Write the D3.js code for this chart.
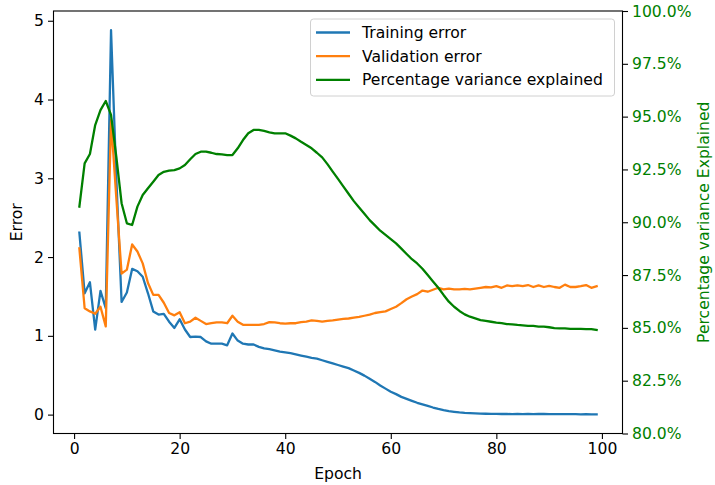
<!DOCTYPE html>
<html>
<head>
<meta charset="utf-8">
<script src="https://cdn.jsdelivr.net/npm/d3@7"></script>
<style>
  body { margin: 0; background: #fff; }
  svg text { font-family: "DejaVu Sans", sans-serif; }
</style>
</head>
<body>
<div id="chart"></div>
<script>
// data
const epochs = d3.range(1, 100);

const trainingError = [
  2.31, 1.54, 1.68, 1.08, 1.57, 1.35, 4.88, 3.0, 1.43, 1.55,
  1.85, 1.82, 1.75, 1.54, 1.31, 1.27, 1.28, 1.18, 1.10, 1.21,
  1.08, 0.985, 0.99, 0.985, 0.93, 0.90, 0.90, 0.90, 0.88, 1.03,
  0.94, 0.90, 0.89, 0.89, 0.86, 0.84, 0.83, 0.815, 0.80, 0.79,
  0.78, 0.765, 0.75, 0.735, 0.72, 0.71, 0.69, 0.67, 0.65, 0.63,
  0.61, 0.59, 0.56, 0.53, 0.495, 0.455, 0.415, 0.37, 0.33, 0.29,
  0.26, 0.225, 0.20, 0.175, 0.15, 0.13, 0.11, 0.09, 0.072, 0.057,
  0.045, 0.036, 0.028, 0.022, 0.018, 0.015, 0.013, 0.011, 0.010, 0.009,
  0.008, 0.008, 0.006, 0.009, 0.007, 0.010, 0.006, 0.009, 0.008, 0.006,
  0.007, 0.005, 0.006, 0.005, 0.005, 0.004, 0.005, 0.004, 0.004
];

const validationError = [
  2.11, 1.35, 1.31, 1.28, 1.37, 1.12, 3.74, 2.75, 1.79, 1.84,
  2.16, 2.07, 1.92, 1.67, 1.52, 1.52, 1.42, 1.29, 1.26, 1.30,
  1.16, 1.18, 1.23, 1.19, 1.15, 1.16, 1.17, 1.17, 1.16, 1.255,
  1.18, 1.14, 1.14, 1.14, 1.14, 1.15, 1.175, 1.17, 1.16, 1.155,
  1.16, 1.16, 1.175, 1.18, 1.195, 1.19, 1.18, 1.19, 1.195, 1.205,
  1.215, 1.22, 1.23, 1.24, 1.255, 1.27, 1.29, 1.30, 1.31, 1.34,
  1.37, 1.415, 1.465, 1.50, 1.53, 1.575, 1.56, 1.585, 1.61, 1.59,
  1.60, 1.59, 1.59, 1.595, 1.59, 1.60, 1.61, 1.62, 1.615, 1.63,
  1.61, 1.64, 1.63, 1.64, 1.63, 1.645, 1.62, 1.64, 1.62, 1.635,
  1.62, 1.61, 1.65, 1.62, 1.62, 1.63, 1.645, 1.61, 1.63
];

const varianceExplained = [
  90.74, 92.79, 93.23, 94.60, 95.31, 95.74, 95.08, 93.10, 90.90, 89.95,
  89.87, 90.74, 91.29, 91.61, 91.92, 92.24, 92.39, 92.44, 92.47, 92.55,
  92.71, 92.98, 93.23, 93.34, 93.34, 93.29, 93.23, 93.21, 93.18, 93.18,
  93.50, 93.89, 94.21, 94.37, 94.37, 94.32, 94.26, 94.21, 94.21, 94.21,
  94.10, 93.97, 93.81, 93.66, 93.50, 93.29, 93.07, 92.75, 92.4, 92.05,
  91.7, 91.35, 91.0, 90.7, 90.4, 90.1, 89.85, 89.6, 89.4, 89.2,
  89.0, 88.75, 88.5, 88.25, 88.05, 87.8, 87.5, 87.2, 86.9, 86.56,
  86.24, 86.0, 85.80, 85.64, 85.53, 85.45, 85.37, 85.33, 85.29, 85.25,
  85.22, 85.18, 85.17, 85.14, 85.12, 85.09, 85.09, 85.06, 85.06, 85.03,
  84.99, 84.98, 84.98, 84.95, 84.95, 84.95, 84.94, 84.94, 84.90
];

const xTicks = [0, 20, 40, 60, 80, 100];
const errorTicks = [0, 1, 2, 3, 4, 5];
const pctTicks = [80, 82.5, 85, 87.5, 90, 92.5, 95, 97.5, 100];
const seriesNames = ["Training error", "Validation error", "Percentage variance explained"];

// set up
const W = 715, H = 485;
const mLeft = 53.5, mRight = 622.5, mTop = 11, mBottom = 433.5;
const fs = 15.6;
const tickLen = 5.5;

const svg = d3.select("#chart").append("svg")
  .attr("width", W)
  .attr("height", H);

// matplotlib style 5% margins
const pad = (lo, hi) => [lo - (hi - lo) * 0.05, hi + (hi - lo) * 0.05];
const allErr = trainingError.concat(validationError);

const x = d3.scaleLinear()
  .domain(pad(d3.min(epochs), d3.max(epochs)))
  .range([mLeft, mRight]);
const yErr = d3.scaleLinear()
  .domain(pad(d3.min(allErr), d3.max(allErr)))
  .range([mBottom, mTop]);
const yPct = d3.scaleLinear()
  .domain([80, 100])
  .range([mBottom, mTop]);

svg.append("clipPath").attr("id", "plotclip")
  .append("rect")
  .attr("x", mLeft).attr("y", mTop)
  .attr("width", mRight - mLeft).attr("height", mBottom - mTop);

const plot = svg.append("g").attr("clip-path", "url(#plotclip)");

const lineErr = d3.line().x((d, i) => x(epochs[i])).y(d => yErr(d));
const linePct = d3.line().x((d, i) => x(epochs[i])).y(d => yPct(d));

const lines = [
  {data: trainingError, gen: lineErr, color: "#1f77b4"},
  {data: validationError, gen: lineErr, color: "#ff7f0e"},
  {data: varianceExplained, gen: linePct, color: "green"}
];
lines.forEach(l => {
  plot.append("path").datum(l.data)
    .attr("d", l.gen)
    .attr("fill", "none").attr("stroke", l.color)
    .attr("stroke-width", 2.3)
    .attr("stroke-linejoin", "round").attr("stroke-linecap", "square");
});

// axes
const xAxis = svg.append("g")
  .attr("transform", `translate(0,${mBottom})`)
  .call(d3.axisBottom(x).tickValues(xTicks).tickSize(tickLen).tickPadding(4).tickFormat(d3.format("d")));
const yAxisL = svg.append("g")
  .attr("transform", `translate(${mLeft},0)`)
  .call(d3.axisLeft(yErr).tickValues(errorTicks).tickSize(tickLen).tickPadding(4).tickFormat(d3.format("d")));
const yAxisR = svg.append("g")
  .attr("transform", `translate(${mRight},0)`)
  .call(d3.axisRight(yPct).tickValues(pctTicks).tickSize(tickLen).tickPadding(4).tickFormat(d => d3.format(".1f")(d) + "%"));

[xAxis, yAxisL, yAxisR].forEach(g => {
  g.select(".domain").remove();
  g.selectAll(".tick line").attr("stroke", "#000").attr("stroke-width", 1.1);
  g.selectAll(".tick text").attr("font-size", fs).attr("fill", "#000")
    .attr("font-family", "DejaVu Sans, sans-serif");
});
yAxisR.selectAll(".tick text").attr("fill", "green");

// frame
svg.append("rect")
  .attr("x", mLeft).attr("y", mTop)
  .attr("width", mRight - mLeft).attr("height", mBottom - mTop)
  .attr("fill", "none").attr("stroke", "#000").attr("stroke-width", 1.1);

// axis labels
svg.append("text")
  .attr("x", (mLeft + mRight) / 2).attr("y", 479)
  .attr("text-anchor", "middle").attr("font-size", fs)
  .text("Epoch");
svg.append("text")
  .attr("transform", `translate(22,${(mTop + mBottom) / 2}) rotate(-90)`)
  .attr("text-anchor", "middle").attr("font-size", fs)
  .text("Error");
svg.append("text")
  .attr("transform", `translate(709,${(mTop + mBottom) / 2}) rotate(-90)`)
  .attr("text-anchor", "middle").attr("font-size", fs).attr("fill", "green")
  .text("Percentage variance Explained");

// legend
const legendColors = ["#1f77b4", "#ff7f0e", "green"];
const legend = svg.append("g");
legend.append("rect")
  .attr("x", 310.5).attr("y", 19)
  .attr("width", 304).attr("height", 77)
  .attr("rx", 3)
  .attr("fill", "#fff").attr("fill-opacity", 0.8)
  .attr("stroke", "#d0d0d0").attr("stroke-width", 1);
seriesNames.forEach((name, i) => {
  const cy = 32.5 + i * 23.7;
  legend.append("line")
    .attr("x1", 316).attr("x2", 350)
    .attr("y1", cy).attr("y2", cy)
    .attr("stroke", legendColors[i]).attr("stroke-width", 2.3);
  legend.append("text")
    .attr("x", 362).attr("y", cy)
    .attr("dy", "0.35em").attr("font-size", fs)
    .text(name);
});
</script>
</body>
</html>
